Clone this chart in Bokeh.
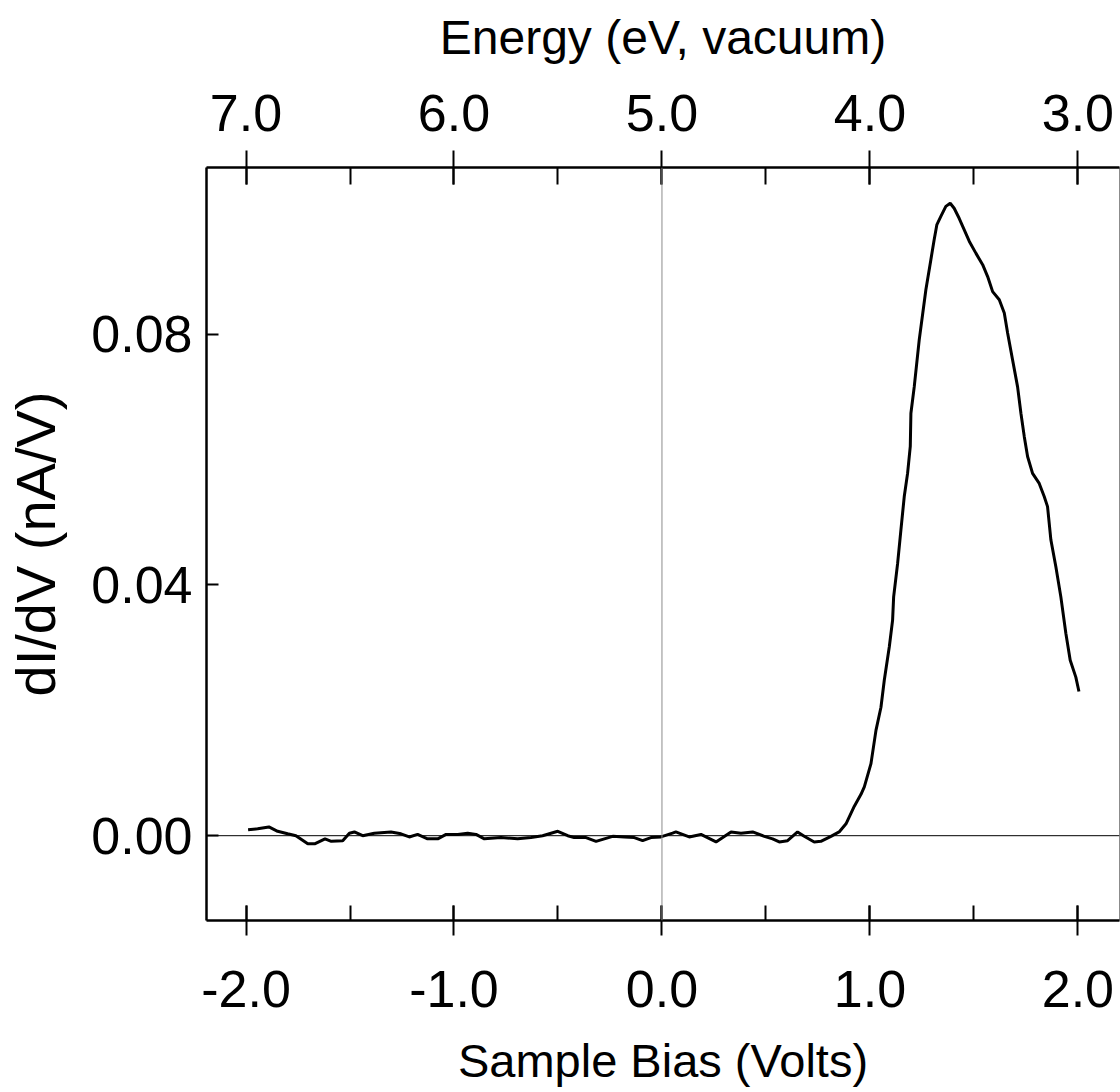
from bokeh.plotting import figure
from bokeh.models import (Range1d, LinearAxis, SingleIntervalTicker, FixedTicker,
                          PrintfTickFormatter, Span)
from bokeh.embed import file_html
from bokeh.resources import INLINE

# Sample bias (V) and dI/dV (nA/V)
bias = [-1.99, -1.944, -1.89, -1.848, -1.80, -1.76, -1.703, -1.67, -1.62, -1.59,
        -1.535, -1.503, -1.479, -1.439, -1.383, -1.303, -1.255, -1.215, -1.175, -1.127,
        -1.078, -1.038, -0.982, -0.934, -0.894, -0.854, -0.774, -0.694, -0.63, -0.574,
        -0.501, -0.453, -0.422, -0.365, -0.317, -0.277, -0.237, -0.181, -0.133, -0.093,
        -0.053, -0.005, 0.051, 0.067, 0.131, 0.1875, 0.26, 0.332, 0.38, 0.436,
        0.492, 0.532, 0.564, 0.604, 0.652, 0.684, 0.732, 0.764, 0.8125, 0.852,
        0.885, 0.925, 0.957, 0.973, 1.005, 1.029, 1.053, 1.069, 1.093, 1.109,
        1.114, 1.133, 1.149, 1.165, 1.181, 1.194, 1.197, 1.213, 1.237, 1.269,
        1.293, 1.309, 1.322, 1.341, 1.365, 1.386, 1.405, 1.429, 1.453, 1.478,
        1.51, 1.542, 1.566, 1.59, 1.622, 1.646, 1.662, 1.686, 1.71, 1.726,
        1.742, 1.758, 1.782, 1.814, 1.838, 1.854, 1.87, 1.894, 1.918, 1.942,
        1.963, 1.99, 2.005]
didv = [0.00096, 0.0011, 0.0014, 0.0007, 0.0003, 0.0, -0.0013, -0.0013, -0.0005, -0.0009,
        -0.0008, 0.0004, 0.0006, 0.0, 0.0004, 0.0006, 0.0003, -0.0002, 0.0002, -0.0005,
        -0.0005, 0.0002, 0.0002, 0.0004, 0.0002, -0.0005, -0.0003, -0.0005, -0.0003, 0.0,
        0.0007, 0.0, -0.0003, -0.0003, -0.0009, -0.0005, -0.0001, -0.0002, -0.0003, -0.0008,
        -0.0003, -0.0002, 0.0004, 0.0006, -0.0002, 0.0002, -0.001, 0.0006, 0.0004, 0.0006,
        -0.0001, -0.0005, -0.001, -0.0008, 0.0006, -0.0001, -0.001, -0.0009, -0.0001, 0.0006,
        0.0019, 0.0047, 0.0066, 0.0078, 0.0115, 0.0168, 0.0205, 0.0248, 0.0301, 0.0344,
        0.0381, 0.0434, 0.0488, 0.0541, 0.0578, 0.0621, 0.0674, 0.0716, 0.0791, 0.0871,
        0.0919, 0.0951, 0.0975, 0.0988, 0.1004, 0.1009, 0.1001, 0.0985, 0.0967, 0.0948,
        0.0929, 0.0911, 0.0892, 0.0868, 0.0855, 0.0834, 0.0802, 0.0759, 0.0716, 0.0674,
        0.0637, 0.0605, 0.0578, 0.0562, 0.0541, 0.0525, 0.0472, 0.0429, 0.0381, 0.0323,
        0.028, 0.0253, 0.0230]

y_ticks = [0.0, 0.04, 0.08]
vacuum_offset = 5.0  # Energy (eV, vacuum) = 5.0 - bias

x_lo, x_hi = -2.19, 2.2
y_lo, y_hi = -0.01353, 0.1066

TICK_FONT = "Liberation Sans"
LABEL_FONT = "Liberation Sans"

p = figure(width=1120, height=1092, output_backend="svg", toolbar_location=None,
           x_range=Range1d(x_lo, x_hi), y_range=Range1d(y_lo, y_hi),
           x_axis_location=None, y_axis_location=None,
           min_border_left=206, min_border_right=1, min_border_top=167, min_border_bottom=172)
p.outline_line_color = "#8c8c8c"
p.outline_line_width = 1
p.xgrid.visible = False
p.ygrid.visible = False
p.background_fill_color = "white"
p.border_fill_color = "white"

p.extra_x_ranges = {"energy": Range1d(vacuum_offset - x_lo, vacuum_offset - x_hi)}


def style(ax, font, size):
    ax.axis_line_color = "black"
    ax.axis_line_width = 2.5
    ax.major_tick_line_color = "black"
    ax.major_tick_line_width = 2
    ax.minor_tick_line_color = "black"
    ax.minor_tick_line_width = 2
    ax.major_label_text_font = font
    ax.major_label_text_font_size = size
    ax.major_label_text_color = "black"
    ax.axis_label_text_font = LABEL_FONT
    ax.axis_label_text_font_style = "normal"
    ax.axis_label_text_color = "black"


# bottom axis
xb = LinearAxis(ticker=SingleIntervalTicker(interval=1, num_minor_ticks=2),
                formatter=PrintfTickFormatter(format="%.1f"),
                axis_label="Sample Bias (Volts)")
style(xb, TICK_FONT, "52px")
xb.axis_label_text_font_size = "47px"
xb.major_tick_in = 15
xb.major_tick_out = 15
xb.minor_tick_in = 15
xb.minor_tick_out = 0
xb.major_label_standoff = 35
xb.axis_label_standoff = 24
p.add_layout(xb, "below")

# top axis (energy)
xt = LinearAxis(x_range_name="energy",
                ticker=SingleIntervalTicker(interval=1, num_minor_ticks=2),
                formatter=PrintfTickFormatter(format="%.1f"),
                axis_label="Energy (eV, vacuum)")
style(xt, TICK_FONT, "52px")
xt.axis_label_text_font_size = "48px"
xt.major_tick_in = 17
xt.major_tick_out = 17
xt.minor_tick_in = 17
xt.minor_tick_out = 0
xt.major_label_standoff = 20
xt.axis_label_standoff = 28
p.add_layout(xt, "above")

# left axis
yl = LinearAxis(ticker=FixedTicker(ticks=y_ticks, minor_ticks=[]),
                formatter=PrintfTickFormatter(format="%.2f"),
                axis_label="dI/dV (nA/V)")
style(yl, TICK_FONT, "52px")
yl.axis_label_text_font_size = "56px"
yl.major_tick_in = 12
yl.major_tick_out = 0
yl.minor_tick_in = 0
yl.minor_tick_out = 0
yl.major_label_standoff = 14
yl.axis_label_standoff = 21
p.add_layout(yl, "left")

p.add_layout(Span(location=0, dimension="width", line_color="black", line_width=1))
p.add_layout(Span(location=0, dimension="height", line_color="#8c8c8c", line_width=1))

p.line(bias, didv, line_color="black", line_width=3)

open("out.html", "w").write(file_html(p, INLINE))
